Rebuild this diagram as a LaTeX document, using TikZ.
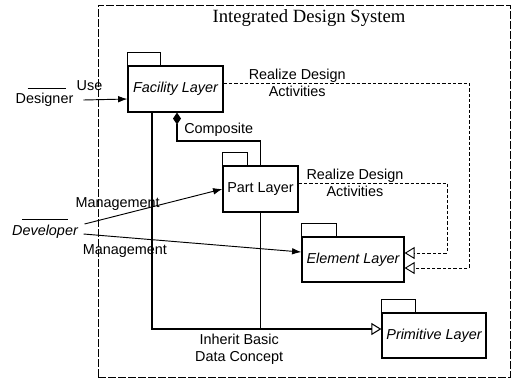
\documentclass[tikz,border=0pt]{standalone}
\usepackage{fontspec}
\setmainfont{Liberation Sans}
\newfontfamily\titlefont{Liberation Serif}
\usetikzlibrary{arrows.meta}
\tikzset{
every node/.style={
font=\fontsize{10.8}{13}\selectfont},
package/.style={
draw,
line width=0.9pt,
minimum height=34.5pt,
inner sep=1pt},
tab/.style={draw, line width=0.9pt},
frame/.style={
draw,
line width=0.6pt,
dash pattern=on 6pt off 1.5pt},
lbl/.style={align=center},
flow/.style={
draw,
line width=0.7pt,
-{Latex[length=7pt,width=5pt]}},
realize/.style={
draw,
line width=0.7pt,
dash pattern=on 2.5pt off 1.5pt,
-{Triangle[open,length=7.5pt,width=9pt]}},
inherit/.style={
draw,
line width=0.8pt,
-{Triangle[open,length=7.5pt,width=9pt]}},
composite/.style={
draw,
line width=0.8pt,
{Diamond[length=9pt,width=6pt]}-},
bar/.style={line width=0.4pt}}

\begin{document}
\begin{tikzpicture}[x=0.75pt,y=-0.75pt]
\useasboundingbox (0,0) rectangle (516,380);
% system boundary
\node[frame, minimum width=309pt, minimum height=279pt] (sys) at (304,191) {};
\node[font=\titlefont\fontsize{14}{17}\selectfont] (title) at (309,18) {Integrated Design System};
% layers
\node[package, minimum width=71.25pt] (fac) at (175.5,89) {\itshape Facility Layer};
\node[package, minimum width=56.25pt] (part) at (260.5,189) {Part Layer};
\node[package, minimum width=76.5pt, minimum height=33.75pt] (elem) at (353,259.5) {\itshape Element Layer};
\node[package, minimum width=78pt, minimum height=33.75pt] (prim) at (434,335.5) {\itshape Primitive Layer};
\foreach \n/\w in {fac/33,part/25,elem/35,prim/34}
  \draw[tab] (\n.north west) rectangle ++(\w,-13);
% actors
\node (des) at (44.5,100) {Designer};
\node (dev) at (45,232) {\itshape Developer};
\draw[bar] ([shift={(-17,0)}]des.north) -- ([shift={(21,0)}]des.north);
\draw[bar] ([shift={(-23,-1)}]dev.north) -- ([shift={(23,-1)}]dev.north);
% usage and management
\draw[flow] ([xshift=4pt]des.east) -- node[pos=0.14, above=3pt] {Use} (fac.west |- 0,99);
\draw[flow] ([shift={(2,-8)}]dev.east) -- node[pos=0.24, above] {Management} (part.west);
\draw[flow] ([shift={(1,2)}]dev.east) -- node[pos=0.19, below=2pt] {Management} ([yshift=5.6pt]elem.west);
% relations between layers
\draw[composite] (fac.south -| 177,0) |- node[pos=0.75, above] {Composite} (part.north |- 0,141) -- (part.north);
\draw[realize] (fac.east |- 0,83) -- node[lbl, pos=0.3] {Realize Design\\Activities} (469,83) |- (elem.east |- 0,268);
\draw[realize] (part.east |- 0,183) -- node[lbl, pos=0.38] {Realize Design\\Activities} (447,183) |- (elem.east |- 0,253);
\draw[inherit] (fac.south -| 152,0) |- node[lbl, pos=0.69, below] {Inherit Basic\\Data Concept} (prim.west |- 0,329);
\draw[inherit, -] (part.south) -- (part.south |- 0,329);
\end{tikzpicture}
\end{document}
